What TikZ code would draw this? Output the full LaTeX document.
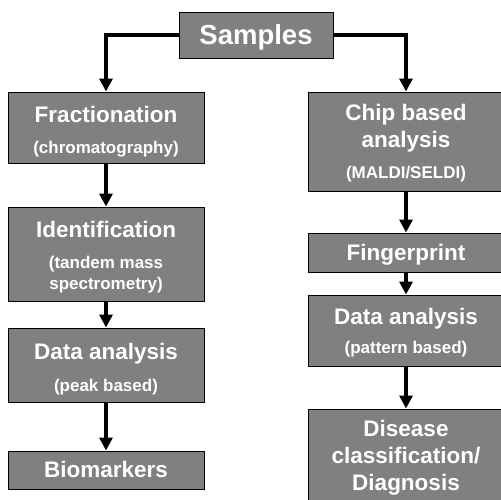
\documentclass[tikz,border=0pt]{standalone}
\usepackage{fontspec}
\setmainfont{Liberation Sans}
\usetikzlibrary{arrows.meta}
\definecolor{boxgray}{RGB}{128,128,128}
\newcommand\subline{\fontsize{17}{20.5}\selectfont}
% struts giving each text block the font's full ascent (plus optional room) and descent
\newcommand\ascentstrut[1][0pt]{\rule{0pt}{\dimexpr0.905em+#1\relax}}
\newcommand\descentstrut{\rule[-0.212em]{0pt}{0pt}}
\begin{document}
\begin{tikzpicture}[x=1pt,y=-1pt,
  box/.style={draw=black, line width=1pt, fill=boxgray, text=white,
    font=\bfseries\fontsize{22.5}{27}\selectfont, align=center,
    inner sep=0pt, minimum width=196pt},
  flow/.style={line width=4pt, -{Triangle[length=13pt,width=13pt]}}]
\useasboundingbox (0,0) rectangle (501,499);

% top node
\node[box, minimum width=154pt, minimum height=46pt,
  font=\bfseries\fontsize{27.5}{33}\selectfont] (samples) at (256,35)
  {\ascentstrut Samples\descentstrut};

% left branch: identification route
\node[box, minimum height=71pt] (frac) at (106,127.5)
  {\ascentstrut[3.8pt]Fractionation\\[4pt]{\subline (chromatography)\descentstrut}};
\node[box, minimum height=94pt] (ident) at (106,254)
  {\ascentstrut[2.5pt]Identification\\[4pt]{\subline (tandem mass}\\[-5.3pt]{\subline spectrometry)\descentstrut}};
\node[box, minimum height=74pt] (dataL) at (106,365)
  {\ascentstrut[5.2pt]Data analysis\\[5pt]{\subline (peak based)\descentstrut}};
\node[box, minimum height=38pt] (bio) at (106,470)
  {\ascentstrut Biomarkers\descentstrut};

% right branch: profiling route
\node[box, minimum height=99pt] (chip) at (406,141.5)
  {\ascentstrut Chip based\\analysis\\[4pt]{\subline (MALDI/SELDI)\descentstrut}};
\node[box, minimum height=39pt] (finger) at (406,252.5)
  {\ascentstrut Fingerprint\descentstrut};
\node[box, minimum height=71pt] (dataR) at (406,330.5)
  {\ascentstrut Data analysis\\[2.5pt]{\subline (pattern based)\descentstrut}};
\node[box, minimum height=93pt] (disease) at (406,455.5)
  {\ascentstrut Disease\\classification/\\Diagnosis\descentstrut};

% connectors
\draw[flow] (samples.west) -| (frac.north);
\draw[flow] (samples.east) -| (chip.north);
\draw[flow] (frac) -- (ident);
\draw[flow] (ident) -- (dataL);
\draw[flow] (dataL) -- (bio);
\draw[flow] (chip) -- (finger);
\draw[flow] (finger) -- (dataR);
\draw[flow] (dataR) -- (disease);
\end{tikzpicture}
\end{document}
